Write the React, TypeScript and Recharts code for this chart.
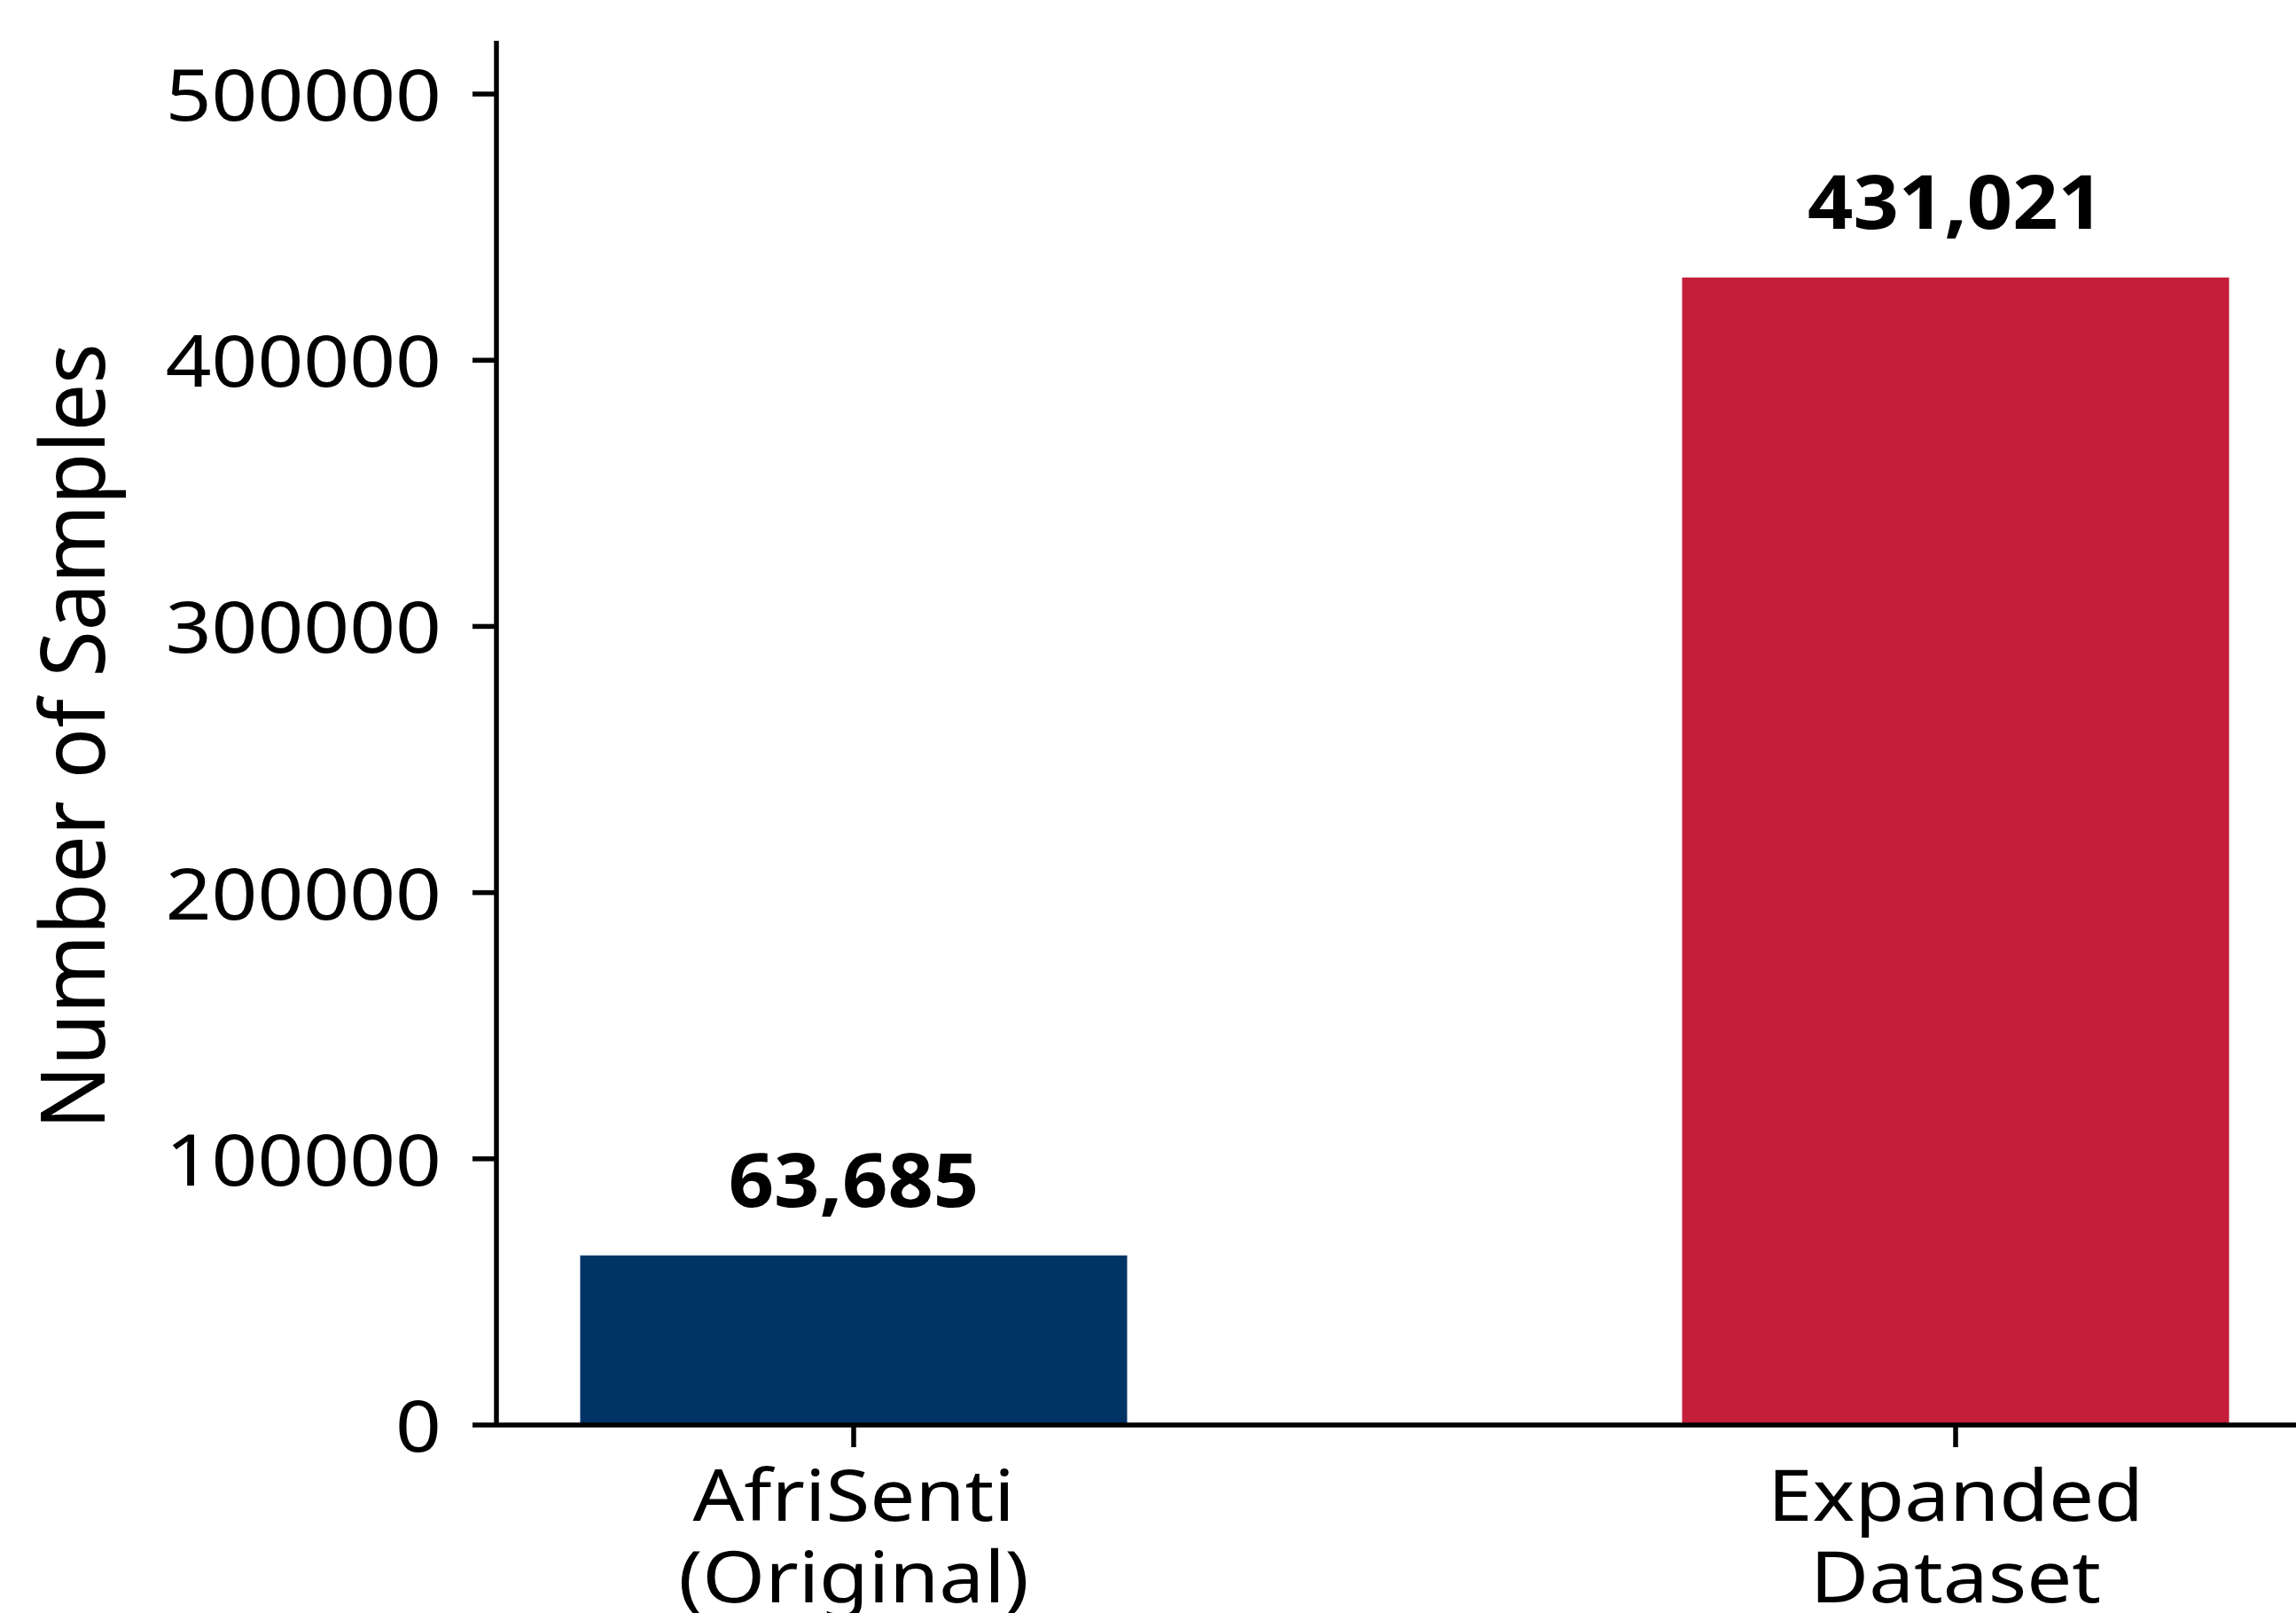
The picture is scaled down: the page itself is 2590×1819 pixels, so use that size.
import React from 'react';
import { BarChart, Bar, XAxis, YAxis, Cell, LabelList } from 'recharts';

const categories = ['AfriSenti (Original)', 'Expanded Dataset'];
const categoryLines = [
  ['AfriSenti', '(Original)'],
  ['Expanded', 'Dataset'],
];
const samples = [63685, 431021];
const barColors = ['#003366', '#C41E3A'];
const yTicks = [0, 100000, 200000, 300000, 400000, 500000];
const xTicks = [0, 1];
const yLabel = 'Number of Samples';

const data = categories.map((name, i) => ({ pos: i, name, value: samples[i] }));

const FONT = '"Noto Sans", "Open Sans", sans-serif';
const SX = 1.12;
const AXIS_STROKE = 5.5;

function YTick(props: any) {
  const { x, y, payload } = props;
  return (
    <text
      transform={`translate(${x},${y + 30}) scale(${SX},1)`}
      textAnchor="end"
      fontSize={81}
      fontFamily={FONT}
      fill="#000"
    >
      {payload.value}
    </text>
  );
}

function XTick(props: any) {
  const { x, y, payload } = props;
  const lines = categoryLines[Math.round(payload.value)] || [];
  return (
    <g>
      {lines.map((l, i) => (
        <text
          key={i}
          transform={`translate(${x},${y + 83 + i * 92}) scale(${SX},1)`}
          textAnchor="middle"
          fontSize={81}
          fontFamily={FONT}
          fill="#000"
        >
          {l}
        </text>
      ))}
    </g>
  );
}

function ValueLabel(props: any) {
  const vb = props.viewBox || props;
  const x = props.x ?? vb.x;
  const y = props.y ?? vb.y;
  const width = props.width ?? vb.width;
  return (
    <text
      transform={`translate(${x + width / 2},${y - 55}) scale(1.07,1)`}
      textAnchor="middle"
      fontSize={84}
      fontWeight="bold"
      fontFamily={FONT}
      fill="#000"
    >
      {Number(props.value).toLocaleString('en-US')}
    </text>
  );
}

function YLabel(props: any) {
  const vb = props.viewBox || { x: 0, y: 46, width: 560, height: 1561 };
  const cx = vb.x + 118;
  const cy = vb.y + vb.height / 2 + 4;
  return (
    <text
      transform={`translate(${cx},${cy}) scale(1.06,1) rotate(-90)`}
      textAnchor="middle"
      fontSize={95}
      fontFamily={FONT}
      fill="#000"
    >
      {yLabel}
    </text>
  );
}

export default function App() {
  return (
    <div style={{ position: 'absolute', left: 0, top: 0, background: '#fff' }}>
      <BarChart
        width={2590}
        height={1819}
        data={data}
        margin={{ top: 46, right: 0, bottom: 0, left: 0 }}
      >
        <XAxis
          dataKey="pos"
          type="number"
          domain={[-0.3242, 1.3089]}
          ticks={xTicks}
          allowDataOverflow
          interval={0}
          height={212}
          tickSize={25}
          tickMargin={0}
          tick={<XTick />}
          axisLine={{ stroke: '#000', strokeWidth: AXIS_STROKE }}
          tickLine={{ stroke: '#000', strokeWidth: AXIS_STROKE }}
        />
        <YAxis
          type="number"
          domain={[0, 520000]}
          ticks={yTicks}
          allowDataOverflow
          interval={0}
          width={560}
          tickSize={27}
          tickMargin={35}
          tick={<YTick />}
          axisLine={{ stroke: '#000', strokeWidth: AXIS_STROKE }}
          tickLine={{ stroke: '#000', strokeWidth: AXIS_STROKE }}
          label={{ content: YLabel }}
        />
        <Bar dataKey="value" barSize={617} isAnimationActive={false}>
          {data.map((d, i) => (
            <Cell key={d.name} fill={barColors[i]} />
          ))}
          <LabelList dataKey="value" content={ValueLabel} />
        </Bar>
      </BarChart>
    </div>
  );
}
